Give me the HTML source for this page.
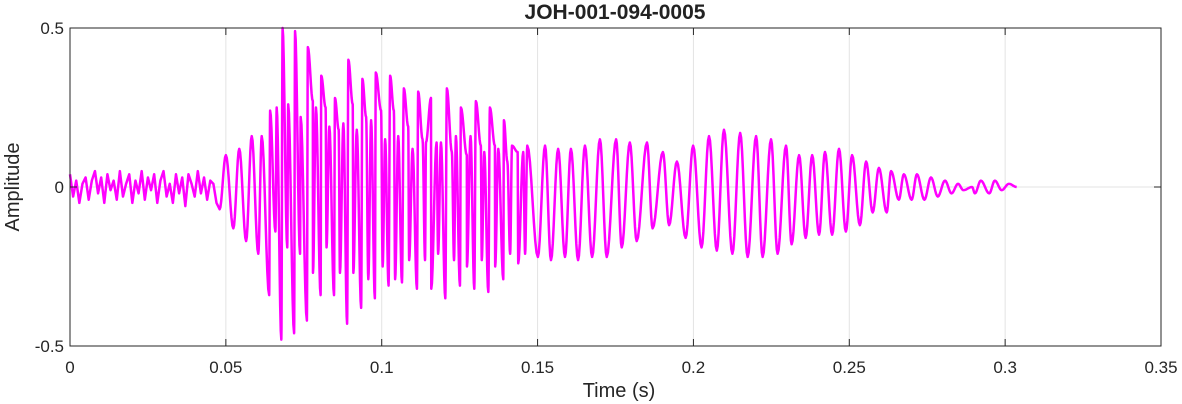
<!DOCTYPE html>
<html><head><meta charset="utf-8"><style>
body{margin:0;background:#fff;}
svg{display:block;font-family:"Liberation Sans",Arial,sans-serif;}
</style></head><body>
<svg id="chart" width="1182" height="404" viewBox="0 0 1182 404">
<rect width="1182" height="404" fill="#fff"/>
<text x="615" y="19" text-anchor="middle" font-size="21" font-weight="bold" fill="#222">JOH-001-094-0005</text>
<g id="grid"></g>
<g id="plot"></g>
<rect x="70" y="28" width="1091" height="318" fill="none" stroke="#262626" stroke-width="1"/>
<g id="ticks"></g>
<text x="619" y="397" text-anchor="middle" font-size="20" fill="#262626">Time (s)</text>
<text transform="translate(19,187) rotate(-90)" text-anchor="middle" font-size="20" fill="#262626">Amplitude</text>
</svg>
<script>
const xTicks=[0,0.05,0.1,0.15,0.2,0.25,0.3,0.35];
const xTickLabels=["0","0.05","0.1","0.15","0.2","0.25","0.3","0.35"];
const yTicks=[-0.5,0,0.5];
const yTickLabels=["-0.5","0","0.5"];
// early noise (ms, amplitude)
const noiseTimes=[0,1,2,3,4,5,6,7,8,9,10,11,12,13,14,15,16,17,18,19,20,21,22,23,24,25,26,27,28,29,30,31,32,33,34,35,36,37,38,39,40,41,42,43,44,45,46,47,48];
const noiseVals=[0.04,-0.03,0.02,-0.05,0.01,0.03,-0.04,0.02,0.05,-0.02,0.03,-0.05,0.04,-0.01,0.02,-0.04,0.05,-0.03,0.01,0.04,-0.05,0.02,-0.02,0.05,-0.04,0.03,-0.01,0.04,-0.05,0.02,0.05,-0.03,0.01,-0.05,0.04,-0.02,0.03,-0.06,0.04,0.01,-0.03,0.05,-0.02,0.03,-0.04,0.02,0.01,-0.05,-0.07];
// peaks (ms, amplitude)
const peakTimes=[50.0,54.3,58.3,61.5,64.2,66.3,68.2,70.0,72.2,74.0,76.3,77.9,78.9,80.6,82.0,83.2,85.0,86.2,87.7,89.3,90.7,92.0,93.8,95.0,96.6,98.1,99.8,101.1,102.7,103.9,105.3,107.1,108.5,109.9,111.7,113.1,114.2,115.8,117.6,119.0,120.9,122.5,123.8,125.4,127.3,128.5,130.2,131.8,132.9,134.7,136.3,137.4,139.2,140.3,141.8,143.6,145.4,146.7,152.4,156.6,160.7,165.2,170.0,175.2,179.6,185.1,190.2,194.7,199.9,205.0,209.8,215.0,220.1,224.9,229.7,233.9,238.1,242.2,246.7,250.9,255.4,259.5,263.4,267.5,271.7,276.2,280.7,284.9,289.4,292.2,296.7,301.2];
const peakVals=[0.10,0.12,0.16,0.16,0.24,0.25,0.50,0.26,0.49,0.22,0.44,0.27,0.25,0.35,0.25,0.19,0.28,0.18,0.20,0.40,0.26,0.18,0.34,0.22,0.21,0.36,0.24,0.15,0.35,0.24,0.16,0.31,0.19,0.12,0.30,0.15,0.14,0.28,0.14,0.14,0.31,0.11,0.16,0.25,0.10,0.16,0.27,0.13,0.11,0.25,0.13,0.12,0.21,0.08,0.13,0.11,0.11,0.13,0.13,0.12,0.12,0.13,0.15,0.15,0.14,0.14,0.11,0.08,0.13,0.16,0.18,0.17,0.16,0.15,0.13,0.10,0.10,0.11,0.12,0.10,0.08,0.06,0.05,0.04,0.04,0.03,0.02,0.01,0.00,0.02,0.02,0.01];
// troughs (ms, amplitude)
const troughTimes=[52.4,56.5,60.4,63.9,65.9,67.8,69.7,71.9,73.8,76.0,77.95,80.4,82.3,84.7,86.6,88.9,90.9,93.4,95.7,97.8,100.3,102.2,104.3,106.5,108.8,111.3,113.9,115.9,118.1,120.4,123.2,125.1,127.35,129.7,132.1,134.2,136.4,139.0,141.2,143.8,146.0,150.1,154.3,158.8,163.0,167.5,172.2,177.0,181.8,186.9,192.2,197.5,202.6,207.5,212.5,217.4,222.2,227.0,231.5,236.0,240.3,244.5,248.9,253.4,257.5,262.0,265.9,270.0,274.1,278.4,282.8,286.6,290.3,294.9,298.9,303.7];
const troughVals=[-0.13,-0.17,-0.21,-0.34,-0.14,-0.48,-0.19,-0.46,-0.21,-0.42,-0.27,-0.34,-0.19,-0.34,-0.27,-0.43,-0.27,-0.38,-0.29,-0.35,-0.25,-0.31,-0.29,-0.30,-0.23,-0.32,-0.23,-0.32,-0.21,-0.35,-0.23,-0.31,-0.25,-0.32,-0.23,-0.33,-0.25,-0.29,-0.21,-0.24,-0.21,-0.22,-0.23,-0.22,-0.23,-0.22,-0.22,-0.19,-0.17,-0.13,-0.12,-0.16,-0.19,-0.20,-0.21,-0.22,-0.22,-0.21,-0.18,-0.16,-0.15,-0.15,-0.14,-0.12,-0.08,-0.08,-0.04,-0.04,-0.04,-0.03,-0.02,-0.01,-0.02,-0.02,-0.01,0.00];

const X0=70,X1=1161,Y0=346,Y1=28;
const xs=t=>X0+(t/0.35)*(X1-X0);
const ys=v=>Y0-((v+0.5)/1.0)*(Y0-Y1);
const NS="http://www.w3.org/2000/svg";
const grid=document.getElementById('grid'),ticks=document.getElementById('ticks'),plot=document.getElementById('plot');
xTicks.forEach((t,i)=>{
  const x=xs(t);
  if(i>0&&i<xTicks.length-1){const g=document.createElementNS(NS,'line');
  
  
  g.setAttribute('x1',x);g.setAttribute('x2',x);g.setAttribute('y1',Y1);g.setAttribute('y2',Y0);g.setAttribute('stroke','#e3e3e3');grid.appendChild(g);}
  [[Y0,Y0-7],[Y1,Y1+7]].forEach(([a,b])=>{const k=document.createElementNS(NS,'line');
  
  
  k.setAttribute('x1',x);k.setAttribute('x2',x);k.setAttribute('y1',a);k.setAttribute('y2',b);k.setAttribute('stroke','#262626');ticks.appendChild(k);});
  const l=document.createElementNS(NS,'text');
  
  
  l.setAttribute('x',x);l.setAttribute('y',373);l.setAttribute('text-anchor','middle');l.setAttribute('font-size','17');l.setAttribute('fill','#262626');l.textContent=xTickLabels[i];ticks.appendChild(l);
});
yTicks.forEach((v,i)=>{
  const y=ys(v);
  if(v===0){const g=document.createElementNS(NS,'line');
  
  
  g.setAttribute('x1',X0);g.setAttribute('x2',X1);g.setAttribute('y1',y);g.setAttribute('y2',y);g.setAttribute('stroke','#e3e3e3');grid.appendChild(g);}
  [[X0,X0+7],[X1,X1-7]].forEach(([a,b])=>{const k=document.createElementNS(NS,'line');
  
  
  k.setAttribute('x1',a);k.setAttribute('x2',b);k.setAttribute('y1',y);k.setAttribute('y2',y);k.setAttribute('stroke','#262626');ticks.appendChild(k);});
  const l=document.createElementNS(NS,'text');
  
  
  l.setAttribute('x',64);l.setAttribute('y',y+6);l.setAttribute('text-anchor','end');l.setAttribute('font-size','17');l.setAttribute('fill','#262626');l.textContent=yTickLabels[i];ticks.appendChild(l);
});
// merge extrema
let pts=[];
peakTimes.forEach((t,i)=>pts.push([t,peakVals[i]]));
troughTimes.forEach((t,i)=>pts.push([t,troughVals[i]]));
pts.sort((a,b)=>a[0]-b[0]);
let d='';
noiseTimes.forEach((t,i)=>{d+=(i?'L':'M')+xs(t/1000).toFixed(2)+' '+ys(noiseVals[i]).toFixed(2);});
let prev=[noiseTimes[noiseTimes.length-1],noiseVals[noiseVals.length-1]];
pts.forEach(p=>{
  for(let s=1;s<=8;s++){const f=s/8,w=(1-Math.cos(Math.PI*f))/2;
    const t=prev[0]+(p[0]-prev[0])*f,v=prev[1]+(p[1]-prev[1])*w;
    d+='L'+xs(t/1000).toFixed(2)+' '+ys(v).toFixed(2);}
  prev=p;
});
const path=document.createElementNS(NS,'path');


path.setAttribute('d',d);path.setAttribute('fill','none');path.setAttribute('stroke','#ff00ff');path.setAttribute('stroke-width','2.5');path.setAttribute('stroke-linejoin','round');
plot.appendChild(path);
</script>
</body></html>
